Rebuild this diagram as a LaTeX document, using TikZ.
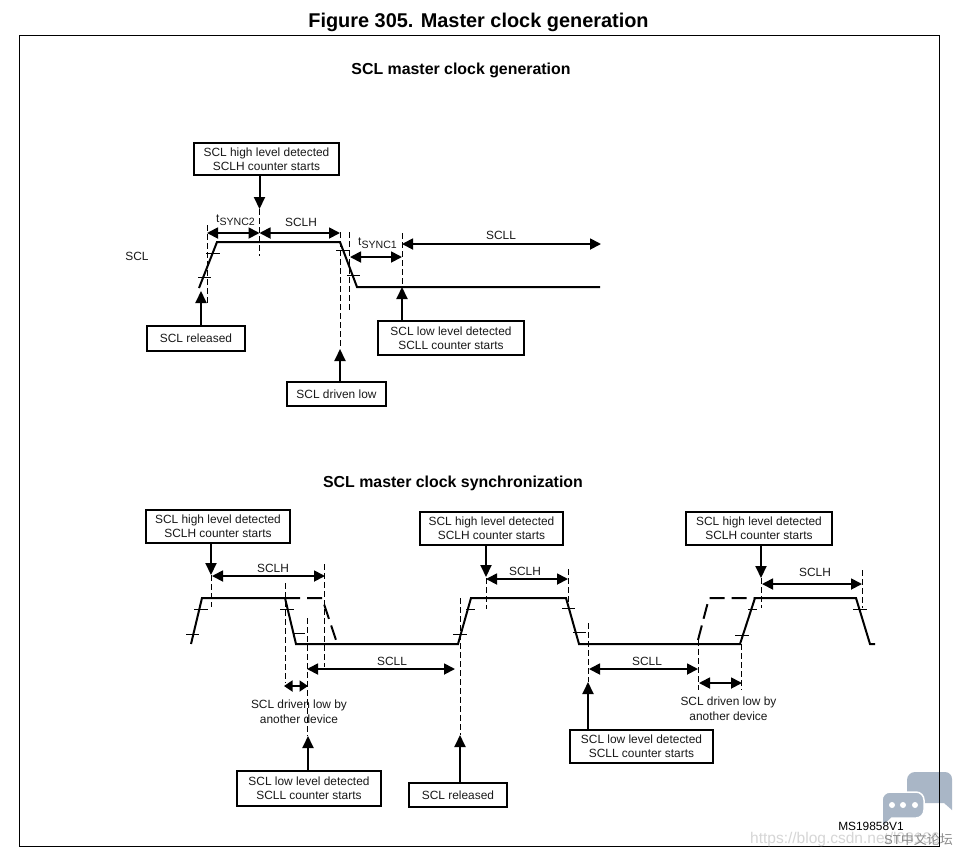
\documentclass[tikz,border=0pt]{standalone}
\usepackage{fontspec}
\setmainfont{Liberation Sans}
\newfontfamily\cjkf{Noto Sans CJK SC}
\usetikzlibrary{arrows.meta}
\tikzset{
 x=1pt,y=-1pt,
 lbl/.style={font=\fontsize{11.9}{14}\selectfont,inner sep=0pt,align=center,text=black!90},
 box/.style={draw=black,line width=2pt,inner sep=0pt,align=center,font=\fontsize{11.9}{14}\selectfont,text=black!90},
 sig/.style={line width=2pt,line join=miter},
 sigd/.style={line width=2pt,dash pattern=on 15pt off 7pt},
 guide/.style={line width=0.8pt,dash pattern=on 6pt off 3pt},
 tick/.style={line width=0.7pt},
 tipfat/.style={-{Triangle[length=12pt,width=11pt]},line width=2pt},
 dim/.style={{Triangle[length=11pt,width=11pt]}-{Triangle[length=11pt,width=11pt]},line width=1.8pt},
 dimshort/.style={{Triangle[length=8.5pt,width=11pt]}-{Triangle[length=8.5pt,width=11pt]},line width=1.8pt},
}
\begin{document}
\begin{tikzpicture}
\useasboundingbox (0,0) rectangle (961,855);
\fill[white] (0,0) rectangle (961,855);
% watermark bubbles, behind the frame
\definecolor{wm}{HTML}{A9B6C6}
\fill[wm] (907,780) arc[start angle=180,end angle=90,radius=8pt] -- (945,772) arc[start angle=90,end angle=0,radius=7pt] -- (952,810) -- (944,803) -- (925,803) -- (907,795) -- cycle;
\draw[fill=wm,draw=white,line width=1.5pt] (882,800) arc[start angle=180,end angle=90,radius=8pt] -- (916,792) arc[start angle=90,end angle=0,radius=8pt] -- (924,810) arc[start angle=0,end angle=-90,radius=8pt] -- (892,818) -- (882,828) -- cycle;
\foreach \xx in {892,903,915} \fill[white] (\xx,805) circle (3pt);

\node[font=\bfseries\fontsize{19.9}{22}\selectfont,inner sep=0pt] (fig) at (478.5,22.5) {Figure 305. Master clock generation};
\node[draw=black,line width=0.8pt,minimum width=920pt,minimum height=811pt,inner sep=0pt] (frame) at (479,440.5) {};
\node[font=\bfseries\fontsize{15.9}{17}\selectfont,inner sep=0pt] (t1) at (461,70.5) {SCL master clock generation};
\node[font=\bfseries\fontsize{15.9}{17}\selectfont,inner sep=0pt] (t2) at (453,483.5) {SCL master clock synchronization};

% top boxes
\node[box,minimum width=145pt,minimum height=32pt] (a1) at (266.5,159) {SCL high level detected\\SCLH counter starts};
\node[box,minimum width=98pt,minimum height=25pt] (a2) at (196,338) {SCL released};
\node[box,minimum width=99pt,minimum height=24pt] (a3) at (336.5,394) {SCL driven low};
\node[box,minimum width=146pt,minimum height=34pt] (a4) at (451,338) {SCL low level detected\\SCLL counter starts};
% top anchors
\coordinate (p1) at (259.5,209); \coordinate (p2) at (201,291);
\coordinate (p3) at (340,349); \coordinate (p4) at (402,287);
\draw[tipfat] (p1|-a1.south) -- (p1);
\draw[tipfat] (p2|-a2.north) -- (p2);
\draw[tipfat] (p3|-a3.north) -- (p3);
\draw[tipfat] (p4|-a4.north) -- (p4);
% top signal
\draw[sig] (199,288) -- (217,242) -- (340,242) -- (357,287) -- (600,287);
\foreach \xa/\xb/\yy in {206/220/253,198/211/277,336/349/250,347/360/275} \draw[tick] (\xa,\yy) -- (\xb,\yy);
\foreach \xx/\ya/\yb in {207/225/304,259.5/209/256,340/232/349,349/232/312,402/233/287} \draw[guide] (\xx,\ya) -- (\xx,\yb);
\coordinate (q1) at (207,233); \coordinate (q2) at (259.5,233); \coordinate (q3) at (340,233);
\coordinate (q4) at (350,257); \coordinate (q5) at (402,257); \coordinate (q6) at (402,244); \coordinate (q7) at (601,244);
\draw[dim] (q1) -- (q2); \draw[dim] (q2) -- (q3); \draw[dim] (q4) -- (q5); \draw[dim] (q6) -- (q7);
\node[lbl] (l1) at (137,256) {SCL};
\node[lbl,anchor=base west] (l2) at (216,222) {t\raisebox{-3pt}{\fontsize{10.6}{12}\selectfont SYNC2}};
\node[lbl] (l3) at (301,222) {SCLH};
\node[lbl,anchor=base west] (l4) at (358,245) {t\raisebox{-3pt}{\fontsize{10.6}{12}\selectfont SYNC1}};
\node[lbl] (l5) at (501,235) {SCLL};

% bottom boxes
\node[box,minimum width=144pt,minimum height=33pt] (b1) at (218,526.5) {SCL high level detected\\SCLH counter starts};
\node[box,minimum width=143pt,minimum height=33pt] (b2) at (491.5,528.5) {SCL high level detected\\SCLH counter starts};
\node[box,minimum width=146pt,minimum height=33pt] (b3) at (759,528.5) {SCL high level detected\\SCLH counter starts};
\node[box,minimum width=144pt,minimum height=35pt] (b4) at (309,788.5) {SCL low level detected\\SCLL counter starts};
\node[box,minimum width=98pt,minimum height=24pt] (b5) at (458,795) {SCL released};
\node[box,minimum width=143pt,minimum height=33pt] (b6) at (641.5,746.5) {SCL low level detected\\SCLL counter starts};
\coordinate (r1) at (211,575); \coordinate (r2) at (486,577); \coordinate (r3) at (761,578);
\coordinate (r4) at (308,736); \coordinate (r5) at (460,735); \coordinate (r6) at (588,682);
\draw[tipfat] (r1|-b1.south) -- (r1);
\draw[tipfat] (r2|-b2.south) -- (r2);
\draw[tipfat] (r3|-b3.south) -- (r3);
\draw[tipfat] (r4|-b4.north) -- (r4);
\draw[tipfat] (r5|-b5.north) -- (r5);
\draw[tipfat] (r6|-b6.north) -- (r6);
% bottom signal
\draw[sig] (191,644) -- (202,598) -- (285,598) -- (296,644) -- (458,644) -- (471,598) -- (566,598) -- (579,644) -- (740,644) -- (755,598) -- (856,598) -- (870,644) -- (875,644);
\draw[sigd] (285,598) -- (322,598) -- (336,640);
\draw[sigd] (698,640) -- (709,598) -- (755,598);
\foreach \xa/\xb/\yy in {186/199/634,194/208/609,280/294/609,294/305/633,453/467/634,466/475/609,562/575/608,573/586/632,735/749/635,748/757/609,853/867/609} \draw[tick] (\xa,\yy) -- (\xb,\yy);
\foreach \xx/\ya/\yb in {211/575/607,285/583/683,324.5/564/667,307/618/736,460/598/735,486/578/609,568/569/608,588/623/682,698/640/690,741/644/690,761/578/608,862/570/608} \draw[guide] (\xx,\ya) -- (\xx,\yb);
\coordinate (s1) at (212,576); \coordinate (s2) at (325,576);
\coordinate (s3) at (284,686); \coordinate (s4) at (308,686);
\coordinate (s5) at (307,669); \coordinate (s6) at (455,669);
\coordinate (s7) at (486,579); \coordinate (s8) at (568,579);
\coordinate (s9) at (762,584); \coordinate (s10) at (862,584);
\coordinate (s11) at (589,669); \coordinate (s12) at (698,669);
\coordinate (s13) at (699,683); \coordinate (s14) at (742,683);
\draw[dim] (s1) -- (s2); \draw[dimshort] (s3) -- (s4); \draw[dim] (s5) -- (s6); \draw[dim] (s7) -- (s8);
\draw[dim] (s9) -- (s10); \draw[dim] (s11) -- (s12); \draw[dim] (s13) -- (s14);
\node[lbl] (m1) at (273,568) {SCLH};
\node[lbl] (m2) at (392,661) {SCLL};
\node[lbl] (m3) at (525,571) {SCLH};
\node[lbl] (m4) at (815,572) {SCLH};
\node[lbl] (m5) at (647,661) {SCLL};
\node[lbl,font=\fontsize{11.9}{15}\selectfont] (m6) at (299,711.5) {SCL driven low by\\another device};
\node[lbl,font=\fontsize{11.9}{15}\selectfont] (m7) at (728.5,708.5) {SCL driven low by\\another device};

% text of the watermark
\node[lbl,font=\fontsize{11.9}{13}\selectfont,text=black] (code) at (871,826) {MS19858V1};
\node[anchor=base west,inner sep=0pt,text=black!16,font=\fontsize{15.5}{18}\selectfont] (w1) at (750,843) {https://blog.csdn.net/l03196};
\node[anchor=base west,inner sep=0pt,text=black!45,font=\fontsize{13}{15}\selectfont] (w2) at (884,844) {ST{\cjkf 中文论坛}};
\end{tikzpicture}
\end{document}
